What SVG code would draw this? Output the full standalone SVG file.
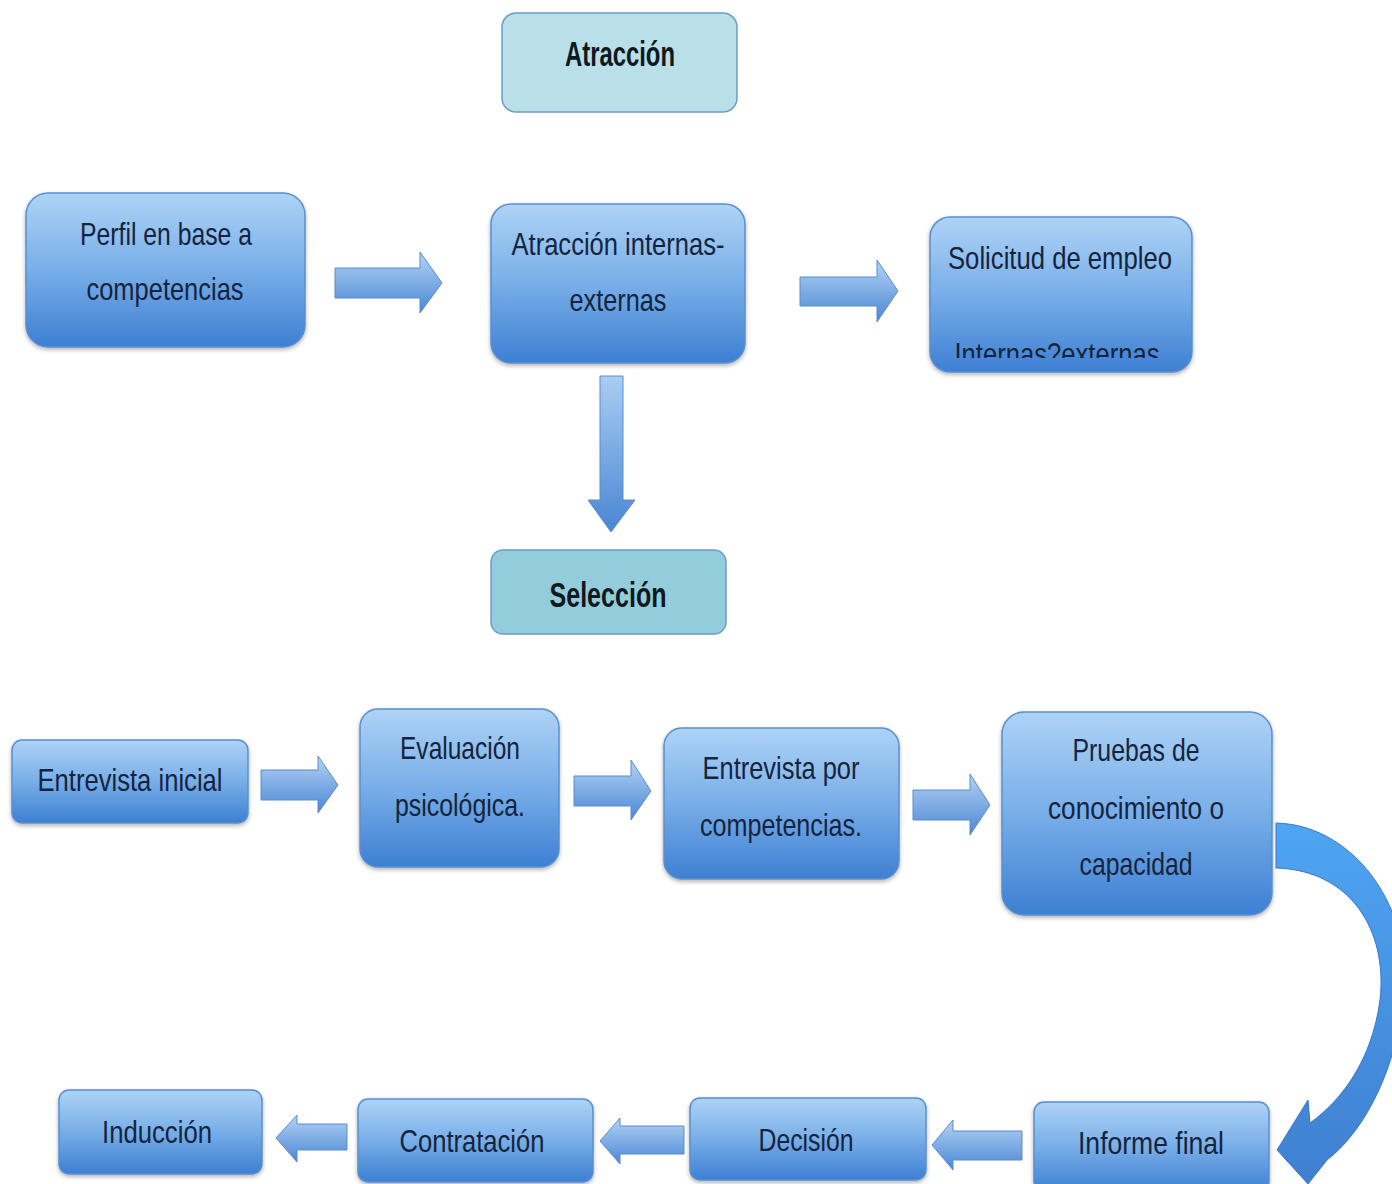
<svg xmlns="http://www.w3.org/2000/svg" width="1392" height="1184" viewBox="0 0 1392 1184">
<defs>
<linearGradient id="gBox" x1="0" y1="0" x2="0" y2="1">
<stop offset="0" stop-color="#aed3f6"/>
<stop offset="0.5" stop-color="#78aee8"/>
<stop offset="1" stop-color="#3d7fd3"/>
</linearGradient>
<linearGradient id="gArrH" x1="0" y1="0" x2="0" y2="1">
<stop offset="0" stop-color="#b3d3f4"/>
<stop offset="1" stop-color="#4b87d5"/>
</linearGradient>
<linearGradient id="gArrV" x1="0" y1="0" x2="0" y2="1">
<stop offset="0" stop-color="#a9cdf2"/>
<stop offset="1" stop-color="#4a86d4"/>
</linearGradient>
<linearGradient id="gCurve" x1="0" y1="0" x2="0" y2="1">
<stop offset="0" stop-color="#4ea5f2"/>
<stop offset="1" stop-color="#3f7fd0"/>
</linearGradient>
<filter id="sh" x="-10%" y="-10%" width="120%" height="130%">
<feDropShadow dx="0" dy="2" stdDeviation="2" flood-color="#000" flood-opacity="0.3"/>
</filter>
<clipPath id="clipSol"><rect x="930" y="217" width="262" height="141"/></clipPath>
<style>
.box{fill:url(#gBox);stroke:#5a8fd0;stroke-width:1.5;filter:url(#sh)}
.hdr1{fill:#b9dfe9;stroke:#6b9ccd;stroke-width:1.5}
.hdr2{fill:#93cddc;stroke:#6b9ccd;stroke-width:1.5}
.arr{fill:url(#gArrH);stroke:#5b8ccb;stroke-width:1}
.arrv{fill:url(#gArrV);stroke:#5b8ccb;stroke-width:1}
.t{font-family:"Liberation Sans","Open Sans",sans-serif;font-size:32px;fill:#15243c;text-anchor:middle}
.tb{font-family:"Liberation Sans","Open Sans",sans-serif;font-size:35px;font-weight:bold;fill:#101820;text-anchor:middle}
</style>
</defs>
<rect width="1392" height="1184" fill="#ffffff"/>

<g id="connectors">
<polygon class="arr" points="335,268 420,268 420,252 442,283 420,313 420,298 335,298"/>
<polygon class="arr" points="800,277 877,277 877,260 898,291 877,322 877,306 800,306"/>
<polygon class="arrv" points="600,376 623,376 623,500 635,500 611,532 588,500 600,500"/>
<polygon class="arr" points="261,770 318,770 318,756 338,785 318,813 318,800 261,800"/>
<polygon class="arr" points="574,776 631,776 631,760 651,791 631,820 631,806 574,806"/>
<polygon class="arr" points="913,790 970,790 970,774 990,805 970,835 970,820 913,820"/>
<polygon class="arr" points="347,1124 297,1124 297,1115 276,1138 297,1162 297,1150 347,1150"/>
<polygon class="arr" points="684,1126 620,1126 620,1118 600,1141 620,1164 620,1154 684,1154"/>
<polygon class="arr" points="1022,1131 953,1131 953,1120 932,1145 953,1170 953,1160 1022,1160"/>
<path fill="url(#gCurve)" stroke="#3a78c4" stroke-width="1" d="M1276,823 C1360,825 1420,920 1402,1010 C1392,1080 1360,1135 1327,1160 L1308,1184 L1277,1150 L1308,1100 L1310,1123 C1342,1100 1372,1060 1380,1000 C1388,930 1350,870 1276,868 Z"/>
</g>

<g id="atraccion">
<rect class="hdr1" x="502" y="13" width="235" height="99" rx="14"/>
<text class="tb" x="620" y="66" textLength="110" lengthAdjust="spacingAndGlyphs">Atracción</text>
</g>

<g id="perfil">
<rect class="box" x="26" y="193" width="279" height="154" rx="22"/>
<text class="t" x="166" y="245" textLength="172" lengthAdjust="spacingAndGlyphs">Perfil en base a</text>
<text class="t" x="165" y="300" textLength="157" lengthAdjust="spacingAndGlyphs">competencias</text>
</g>

<g id="atraccion-int-ext">
<rect class="box" x="491" y="204" width="254" height="159" rx="20"/>
<text class="t" x="618" y="255" textLength="213" lengthAdjust="spacingAndGlyphs">Atracción internas-</text>
<text class="t" x="618" y="311" textLength="97" lengthAdjust="spacingAndGlyphs">externas</text>
</g>

<g id="solicitud">
<rect class="box" x="930" y="217" width="262" height="155" rx="20"/>
<text class="t" x="1060" y="269" textLength="224" lengthAdjust="spacingAndGlyphs">Solicitud de empleo</text>
<text class="t" x="1057" y="365" textLength="205" lengthAdjust="spacingAndGlyphs" clip-path="url(#clipSol)">Internas?externas</text>
</g>

<g id="seleccion">
<rect class="hdr2" x="491" y="550" width="235" height="84" rx="12"/>
<text class="tb" x="608" y="607" textLength="117" lengthAdjust="spacingAndGlyphs">Selección</text>
</g>

<g id="entrevista-inicial">
<rect class="box" x="12" y="740" width="236" height="83" rx="10"/>
<text class="t" x="130" y="791" textLength="185" lengthAdjust="spacingAndGlyphs">Entrevista inicial</text>
</g>

<g id="evaluacion">
<rect class="box" x="360" y="709" width="199" height="158" rx="18"/>
<text class="t" x="460" y="759" textLength="120" lengthAdjust="spacingAndGlyphs">Evaluación</text>
<text class="t" x="460" y="816" textLength="130" lengthAdjust="spacingAndGlyphs">psicológica.</text>
</g>

<g id="entrevista-competencias">
<rect class="box" x="664" y="728" width="235" height="151" rx="18"/>
<text class="t" x="781" y="779" textLength="157" lengthAdjust="spacingAndGlyphs">Entrevista por</text>
<text class="t" x="781" y="836" textLength="162" lengthAdjust="spacingAndGlyphs">competencias.</text>
</g>

<g id="pruebas">
<rect class="box" x="1002" y="712" width="270" height="203" rx="22"/>
<text class="t" x="1136" y="761" textLength="127" lengthAdjust="spacingAndGlyphs">Pruebas de</text>
<text class="t" x="1136" y="819" textLength="176" lengthAdjust="spacingAndGlyphs">conocimiento o</text>
<text class="t" x="1136" y="875" textLength="113" lengthAdjust="spacingAndGlyphs">capacidad</text>
</g>

<g id="induccion">
<rect class="box" x="59" y="1090" width="203" height="84" rx="10"/>
<text class="t" x="157" y="1143" textLength="110" lengthAdjust="spacingAndGlyphs">Inducción</text>
</g>

<g id="contratacion">
<rect class="box" x="358" y="1099" width="235" height="83" rx="10"/>
<text class="t" x="472" y="1152" textLength="145" lengthAdjust="spacingAndGlyphs">Contratación</text>
</g>

<g id="decision">
<rect class="box" x="690" y="1098" width="236" height="82" rx="10"/>
<text class="t" x="806" y="1151" textLength="95" lengthAdjust="spacingAndGlyphs">Decisión</text>
</g>

<g id="informe-final">
<rect class="box" x="1034" y="1102" width="235" height="90" rx="10"/>
<text class="t" x="1151" y="1154" textLength="146" lengthAdjust="spacingAndGlyphs">Informe final</text>
</g>
</svg>
